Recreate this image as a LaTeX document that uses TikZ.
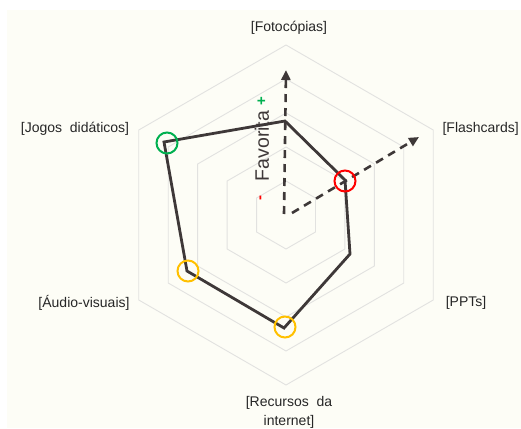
\documentclass[tikz,border=0pt]{standalone}
\usepackage{fontspec}
\usepackage{xcolor}
\usetikzlibrary{arrows.meta}
\setmainfont{Liberation Sans}
\newfontfamily\favfont{Liberation Sans}
\definecolor{papel}{RGB}{253,253,246}
\definecolor{grelha}{RGB}{226,226,224}
\definecolor{linha}{RGB}{62,56,56}
\definecolor{verde}{RGB}{0,176,80}
\definecolor{vermelho}{RGB}{255,0,0}
\definecolor{amarelo}{RGB}{255,192,0}
\tikzset{
  eixo/.style={font=\fontsize{14}{19}\selectfont, text=black!85},
  marca/.style={minimum size=21pt,inner sep=0pt,draw,circle,line width=2pt},
  seta/.style={linha,line width=2.6pt,dash pattern=on 8pt off 6pt,-{Triangle[length=10pt,width=9pt]}}
}
\begin{document}
\begin{tikzpicture}[x=1pt,y=-1pt]
\useasboundingbox (0,0) rectangle (521,428);
\fill[white] (0,0) rectangle (521,428);
\fill[papel] (7,10) rectangle (521,428);
\foreach \r in {34,68,102,136,170}
  \draw[grelha,line width=0.9pt,shift={(286,215)}] (-90:\r) -- (-30:\r) -- (30:\r) -- (90:\r) -- (150:\r) -- (210:\r) -- cycle;
\draw (289,28) node[eixo](fotocopias) {[Fotocópias]};
\draw (520,129) node[eixo,anchor=east,inner xsep=1pt](flashcards) {[Flashcards]};
\draw (466,303) node[eixo](ppts) {[PPTs]};
\draw (289,412) node[eixo,align=center,inner sep=0pt](recursos) {[Recursos\ \ da\\internet]};
\draw (84,303) node[eixo](audiovisuais) {[Áudio-visuais]};
\draw (75,129) node[eixo](jogos) {[Jogos\ \ didáticos]};
\draw (262,146) node[rotate=90,font=\favfont\fontsize{19.5}{21}\selectfont,text=linha](favorita) {Favorita};
\draw (262,101) node[rotate=90,font=\favfont\bfseries\fontsize{15}{17}\selectfont,text=verde](mais) {+};
\draw (262,198) node[rotate=90,font=\favfont\bfseries\fontsize{15}{17}\selectfont,text=vermelho](menos) {-};
\coordinate (origem1) at (284,214);
\coordinate (topo1) at (286,70);
\coordinate (origem2) at (292,213);
\coordinate (topo2) at (419,137);
\draw[seta] (origem1) -- (topo1);
\draw[seta] (origem2) -- (topo2);
\coordinate (fot) at (285,121);
\coordinate (fla) at (345,180);
\coordinate (ppt) at (350,254);
\coordinate (rec) at (284,328);
\coordinate (aud) at (187,271);
\coordinate (jog) at (164,142);
\draw[linha,line width=2.8pt,line join=miter] (fot) -- (fla) -- (ppt) -- (rec) -- (aud) -- (jog) -- cycle;
\draw (167,143) node[marca,verde](mjog) {};
\draw (345,181) node[marca,vermelho](mfla) {};
\draw (188,271) node[marca,amarelo](maud) {};
\draw (285,327) node[marca,amarelo](mrec) {};
\end{tikzpicture}
\end{document}
